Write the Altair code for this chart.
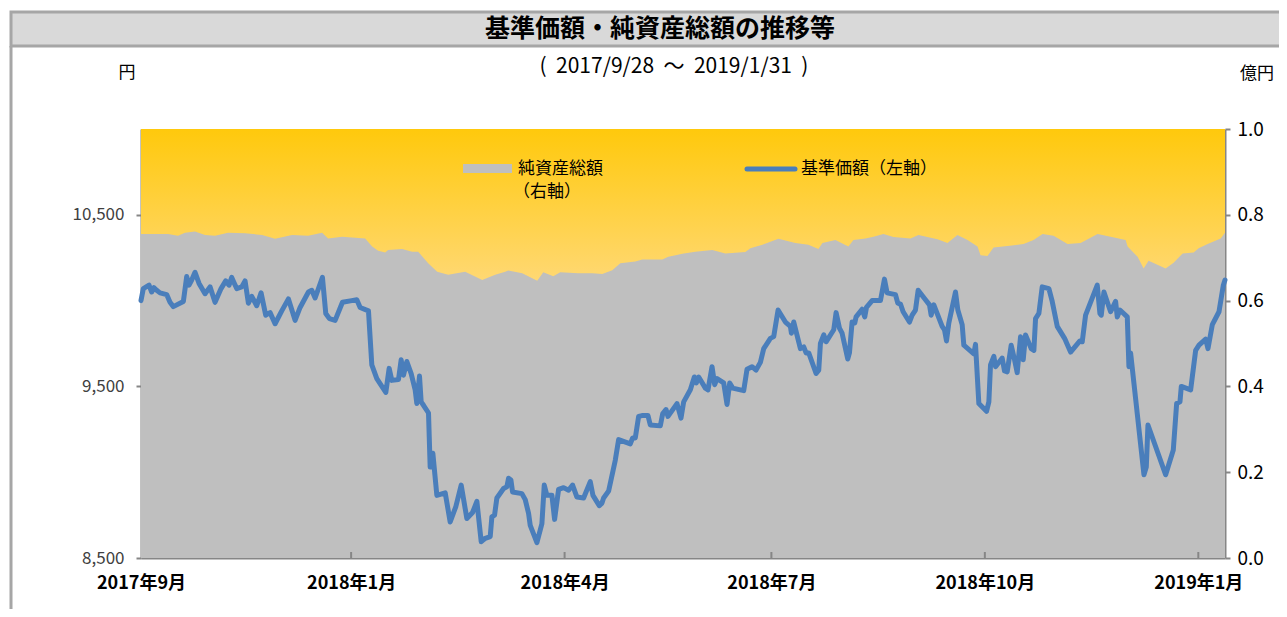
import altair as alt
import pandas as pd

# ---------------- data ----------------
# x position = trading-day index from 2017/9/28 (category axis)
PRICE_X = [0, 0.7, 2.4, 3.2, 3.9, 4.7, 5.7, 7.7, 8.7, 9.7,
           12.7, 13.7, 14.4, 15.2, 16.2, 17.4, 19.2, 20.7, 22.2, 24.0,
           25.4, 26.4, 27.2, 28.0, 28.7, 30.2, 31.2, 32.2, 33.2, 34.7,
           36.0, 37.4, 38.7, 40.2, 42.2, 44.2, 46.2, 47.7, 50.2, 51.2,
           52.2, 54.4, 55.4, 56.5, 58.2, 60.4, 63.2, 64.7, 65.7, 68.2,
           69.2, 70.7, 73.4, 74.4, 75.2, 77.2, 78.0, 78.7, 79.7, 81.0,
           82.2, 82.7, 83.5, 84.0, 84.7, 86.2, 86.7, 87.5, 88.7, 91.2,
           92.7, 94.4, 96.0, 97.7, 99.4, 100.7, 102.0, 103.2, 104.7, 105.2,
           106.0, 106.7, 108.7, 109.7, 110.2, 110.9, 111.4, 114.2, 115.2, 116.2,
           116.7, 118.7, 120.2, 120.9, 121.7, 123.2, 124.0, 125.2, 126.7, 128.2,
           129.4, 130.7, 132.7, 134.7, 135.5, 137.4, 138.2, 138.7, 140.2, 142.2,
           143.2, 146.7, 147.4, 148.2, 149.2, 150.2, 152.0, 152.7, 155.7, 156.4,
           157.4, 158.0, 160.7, 161.9, 162.7, 164.7, 165.9, 166.5, 167.2, 169.2,
           170.0, 171.2, 172.0, 172.7, 174.7, 175.7, 176.5, 177.4, 180.7, 181.7,
           183.2, 184.4, 185.7, 186.7, 188.7, 189.7, 191.0, 193.2, 194.7, 195.0,
           195.7, 197.7, 198.7, 199.4, 200.2, 202.4, 203.2, 203.7, 204.7, 205.4,
           207.7, 208.4, 209.4, 210.2, 211.9, 212.4, 213.2, 214.0, 214.4, 216.2,
           217.0, 217.5, 219.2, 221.7, 222.9, 223.7, 226.2, 226.9, 227.7, 228.5,
           230.4, 231.2, 232.2, 233.0, 235.2, 236.4, 236.9, 237.7, 240.2, 240.9,
           241.5, 242.2, 244.2, 244.9, 246.2, 246.7, 249.7, 250.2, 251.2, 253.5,
           254.2, 254.7, 255.7, 256.2, 258.2, 258.9, 259.7, 260.9, 261.9, 262.7,
           263.7, 264.5, 265.2, 266.9, 267.7, 268.2, 269.2, 270.2, 272.2, 273.2,
           274.7, 276.9, 278.7, 281.5, 282.2, 283.2, 286.7, 287.5, 287.9, 288.7,
           290.7, 292.2, 292.7, 293.5, 295.7, 296.2, 296.7, 300.7, 301.4, 301.9,
           307.2, 309.5, 310.5, 311.5, 311.9, 314.7, 316.2, 317.2, 319.2, 319.9,
           321.2, 323.2, 324.5, 325]
# 基準価額 (円)
PRICE_Y = [10000, 10070, 10090, 10050, 10075, 10060, 10045, 10035, 9990, 9965,
           9995, 10140, 10090, 10120, 10165, 10100, 10040, 10080, 9990, 10070,
           10115, 10090, 10135, 10100, 10070, 10080, 10115, 9985, 10025, 9970,
           10045, 9915, 9930, 9865, 9940, 10010, 9885, 9960, 10050, 10060,
           10015, 10135, 9925, 9895, 9885, 9990, 10000, 10005, 9960, 9940,
           9625, 9545, 9465, 9605, 9535, 9540, 9655, 9565, 9645, 9575,
           9480, 9400, 9560, 9410, 9390, 9345, 9030, 9110, 8865, 8880,
           8710, 8800, 8925, 8730, 8765, 8830, 8595, 8615, 8625, 8740,
           8750, 8850, 8905, 8915, 8965, 8955, 8885, 8875, 8840, 8760,
           8690, 8590, 8700, 8925, 8865, 8865, 8725, 8900, 8910, 8895,
           8925, 8855, 8850, 8945, 8865, 8805, 8820, 8850, 8890, 9070,
           9190, 9165, 9200, 9200, 9325, 9330, 9330, 9275, 9270, 9340,
           9365, 9325, 9400, 9315, 9410, 9480, 9555, 9520, 9555, 9490,
           9480, 9615, 9510, 9545, 9520, 9395, 9520, 9490, 9475, 9600,
           9615, 9595, 9640, 9720, 9780, 9790, 9945, 9875, 9850, 9810,
           9875, 9720, 9730, 9695, 9695, 9575, 9595, 9750, 9800, 9760,
           9830, 9930, 9840, 9810, 9660, 9695, 9875, 9870, 9905, 9950,
           9905, 9960, 10000, 10000, 10125, 10045, 10035, 9985, 9980, 9935,
           9875, 9915, 9945, 10060, 10005, 9975, 9915, 9975, 9850, 9830,
           9765, 9870, 10050, 9945, 9860, 9740, 9690, 9745, 9400, 9355,
           9410, 9625, 9675, 9615, 9665, 9590, 9585, 9740, 9655, 9580,
           9790, 9655, 9800, 9720, 9710, 9895, 9925, 10080, 10070, 9995,
           9850, 9780, 9700, 9765, 9760, 9915, 10090, 9925, 9915, 10050,
           9935, 9995, 9905, 9945, 9905, 9615, 9695, 8985, 9030, 9275,
           8985, 9130, 9400, 9410, 9500, 9480, 9710, 9740, 9775, 9720,
           9860, 9935, 10090, 10120]

NAV_X = [0, 8.1, 11.1, 13.2, 16.2, 19.2, 22.2, 26.1, 31.2, 36.3,
         40.2, 45.3, 50.1, 54.3, 56.1, 60.3, 67.2, 69.3, 71.1, 73.2,
         74.1, 78.3, 81.3, 83.1, 86.1, 88.8, 92.1, 97.2, 102.3, 106.2,
         109.2, 110.1, 114.3, 118.8, 120.6, 123.6, 125.7, 131.1, 135.3, 138.3,
         141.3, 143.7, 148.2, 150.3, 156.3, 158.1, 162.3, 166.2, 171.3, 175.2,
         181.2, 182.7, 186.3, 191.1, 196.2, 200.1, 203.1, 204.3, 208.2, 212.1,
         213.6, 217.2, 219.6, 222.6, 225.6, 230.7, 233.1, 238.8, 241.8, 244.8,
         247.8, 250.8, 251.7, 253.8, 255.6, 259.8, 264.6, 267.6, 270.3, 273.6,
         277.8, 281.7, 286.8, 290.7, 295.2, 295.8, 298.8, 300.6, 302.1, 307.2,
         309.6, 312.3, 315.6, 317.1, 319.8, 323.7, 325]
# 純資産総額 (億円)
NAV_Y = [0.755, 0.755, 0.751, 0.758, 0.761, 0.753, 0.751, 0.758, 0.757, 0.753,
         0.744, 0.753, 0.751, 0.758, 0.745, 0.749, 0.745, 0.726, 0.716, 0.712,
         0.718, 0.720, 0.714, 0.714, 0.687, 0.667, 0.660, 0.667, 0.648, 0.660,
         0.667, 0.670, 0.664, 0.646, 0.666, 0.657, 0.666, 0.664, 0.664, 0.662,
         0.671, 0.687, 0.691, 0.696, 0.696, 0.702, 0.709, 0.714, 0.718, 0.710,
         0.713, 0.722, 0.730, 0.744, 0.734, 0.730, 0.720, 0.734, 0.741, 0.726,
         0.741, 0.745, 0.749, 0.755, 0.748, 0.745, 0.753, 0.743, 0.734, 0.753,
         0.741, 0.726, 0.706, 0.704, 0.724, 0.727, 0.732, 0.741, 0.755, 0.751,
         0.732, 0.734, 0.755, 0.749, 0.741, 0.726, 0.702, 0.675, 0.693, 0.675,
         0.688, 0.710, 0.712, 0.722, 0.732, 0.745, 0.758]

TICK_X = [0, 63, 127, 189, 253, 317]
TICK_LABELS = ["2017年9月", "2018年1月", "2018年4月", "2018年7月", "2018年10月", "2019年1月"]
LEFT_TICKS = [8500, 9500, 10500]
RIGHT_TICKS = [0.0, 0.2, 0.4, 0.6, 0.8, 1.0]

TITLE = "基準価額・純資産総額の推移等"
NB = "\u00a0\u00a0"
SUBTITLE = f"({NB}2017/9/28{NB}～{NB}2019/1/31{NB})"

# ---------------- layout ----------------
W, H = 1084, 429
FONT = "Noto Sans CJK JP"
AXIS_GRAY = "#868686"

price_df = pd.DataFrame({"i": PRICE_X, "p": PRICE_Y})
nav_df = pd.DataFrame({"i": NAV_X, "v": NAV_Y})
tick_df = pd.DataFrame({"i": TICK_X[1:]})
one = pd.DataFrame({"a": [0]})

label_expr = " : ".join(f"datum.value == {v} ? '{t}'" for v, t in zip(TICK_X, TICK_LABELS)) + " : ''"

x_axis = alt.Axis(values=TICK_X, labelExpr=label_expr, tickSize=0, domain=True,
                  domainColor=AXIS_GRAY, domainWidth=2, labelPadding=25,
                  labelBaseline="middle", labelAngle=0, labelFlush=False,
                  labelOverlap=False, labelFont=FONT, labelFontSize=18,
                  labelFontWeight="bold", labelColor="#000000", grid=False, title=None)
X = alt.X("i:Q", scale=alt.Scale(domain=[0, 325], nice=False, zero=False), axis=x_axis)

bg = alt.Chart(one).mark_rect(
    fill=alt.LinearGradient(
        gradient="linear",
        stops=[alt.GradientStop(color="#FFC90C", offset=0),
               alt.GradientStop(color="#FFDA80", offset=0.4),
               alt.GradientStop(color="#FFF0C8", offset=1)],
        x1=0, x2=0, y1=0, y2=1)
).encode(x=alt.value(0), x2=alt.value(W), y=alt.value(0), y2=alt.value(H))

area = alt.Chart(nav_df).mark_area(color="#BFBFBF", opacity=1).encode(
    x=X,
    y=alt.Y("v:Q", scale=alt.Scale(domain=[0, 1], nice=False, zero=True),
            axis=alt.Axis(orient="right", values=RIGHT_TICKS, format=".1f",
                          tickSize=5, tickColor=AXIS_GRAY, tickWidth=2,
                          domainColor=AXIS_GRAY, domainWidth=2, labelPadding=7,
                          labelFont=FONT, labelFontSize=19, labelColor="#000000",
                          grid=False, title=None, labelFlush=False)),
)

line = alt.Chart(price_df).mark_line(color="#4A7EBB", strokeWidth=5,
                                     strokeJoin="round", strokeCap="round").encode(
    x=X,
    y=alt.Y("p:Q", scale=alt.Scale(domain=[8500, 11000], nice=False, zero=False),
            axis=alt.Axis(orient="left", values=LEFT_TICKS, format=",.0f",
                          tickSize=5, tickColor=AXIS_GRAY, tickWidth=2,
                          domainColor=AXIS_GRAY, domainWidth=2, labelPadding=12,
                          labelFont=FONT, labelFontSize=17, labelColor="#404040",
                          grid=False, title=None, labelFlush=False)),
)

xticks = alt.Chart(tick_df).mark_rule(color=AXIS_GRAY, strokeWidth=2).encode(
    x=X, y=alt.value(H - 6), y2=alt.value(H))

# legend
leg_area = alt.Chart(one).mark_rect(color="#BFBFBF").encode(
    x=alt.value(322), x2=alt.value(371), y=alt.value(35), y2=alt.value(44))
leg_line = alt.Chart(one).mark_rule(color="#4A7EBB", strokeWidth=5, strokeCap="round").encode(
    x=alt.value(606), x2=alt.value(654), y=alt.value(40))


def txt(s, x, y, size=17, weight="normal", align="left", font=FONT, color="#000000"):
    return alt.Chart(one).mark_text(text=s, font=font, fontSize=size, fontWeight=weight,
                                    align=align, baseline="middle", color=color).encode(
        x=alt.value(x), y=alt.value(y))


leg_t1 = txt("純資産総額", 377, 40)
leg_t2 = txt("（右軸）", 372, 63)
leg_t3 = txt("基準価額（左軸）", 660, 40)

# header
bar = alt.Chart(one).mark_rect(fill="#D9D9D9", stroke="#A6A6A6", strokeWidth=3).encode(
    x=alt.value(-130), x2=alt.value(1140), y=alt.value(-117), y2=alt.value(-83))
border = alt.Chart(one).mark_rule(color="#A6A6A6", strokeWidth=3).encode(
    x=alt.value(-130), y=alt.value(-83), y2=alt.value(480))
title = txt(TITLE, 519, -100, size=25, weight="bold", align="center")
subtitle = txt(SUBTITLE, 533, -62, size=21, align="center")
yen = txt("円", -14, -56, size=17, align="center")
oku = txt("億円", 1116, -55, size=17, align="center")

chart = alt.layer(
    bg, area, line, xticks, leg_area, leg_line, leg_t1, leg_t2, leg_t3,
    bar, border, title, subtitle, yen, oku
).resolve_scale(y="independent").properties(
    width=W, height=H,
    autosize=alt.AutoSizeParams(type="none"),
    padding={"left": 133, "top": 121, "right": 54, "bottom": 51},
).configure_view(strokeWidth=0)

chart.save("out.html", embed_options={"renderer": "svg", "actions": False})
